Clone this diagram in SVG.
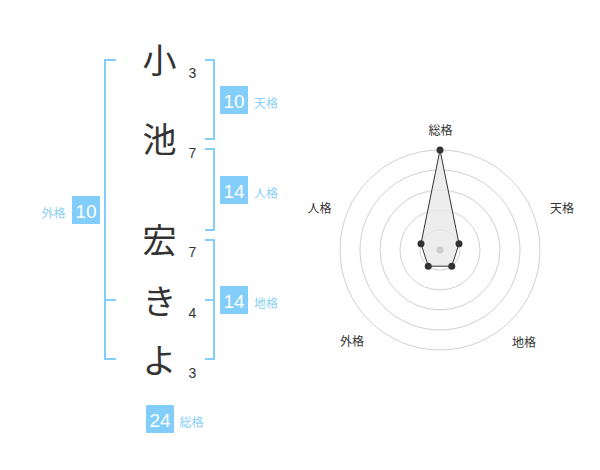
<svg xmlns="http://www.w3.org/2000/svg" width="600" height="470" viewBox="0 0 600 470">
<style>
.br{fill:none;stroke:#82cdf9;stroke-width:2}
.box{fill:#82cdf9}
.bn{font-family:"Liberation Sans","Noto Sans CJK JP",sans-serif;font-size:19px;fill:#fff;text-anchor:middle}
.lb{font-family:"Noto Sans CJK JP",sans-serif;font-size:12px;fill:#8ad0f7}
.ch{font-family:"Noto Sans CJK JP",sans-serif;font-size:34px;fill:#333;text-anchor:middle}
.st{font-family:"Liberation Sans","Noto Sans CJK JP",sans-serif;font-size:14px;fill:#333;text-anchor:middle}
.rl{font-family:"Noto Sans CJK JP",sans-serif;font-size:12px;fill:#333;text-anchor:middle}
.ring{fill:none;stroke:#d0d0d0;stroke-width:1}
.pt{fill:#333}
</style>
<g id="connectors">
<polyline class="br" points="116,60 105,60 105,359 116,359"/>
<line class="br" x1="105" y1="300" x2="116" y2="300"/>
<polyline class="br" points="205,60 214,60 214,139 205,139"/>
<polyline class="br" points="205,149 214,149 214,230 205,230"/>
<polyline class="br" points="205,240 214,240 214,359 205,359"/>
<line class="br" x1="205" y1="300" x2="214" y2="300"/>
</g>
<g id="chars">
<text class="ch" x="159.5" y="73.4">小</text>
<text class="st" x="192.5" y="78.3">3</text>
<text class="ch" x="159.5" y="152">池</text>
<text class="st" x="192.5" y="157.7">7</text>
<text class="ch" x="159.5" y="252.6">宏</text>
<text class="st" x="192.5" y="257.3">7</text>
<text class="ch" x="159.5" y="314">き</text>
<text class="st" x="192.5" y="318.3">4</text>
<text class="ch" x="159.5" y="373">よ</text>
<text class="st" x="192.5" y="378.3">3</text>
</g>
<g id="tenkaku">
<rect class="box" x="220" y="86" width="28" height="28"/>
<text class="bn" x="234" y="108">10</text>
<text class="lb" x="254" y="108.2">天格</text>
</g>
<g id="jinkaku">
<rect class="box" x="220" y="176" width="28" height="28"/>
<text class="bn" x="234" y="198">14</text>
<text class="lb" x="254" y="198.2">人格</text>
</g>
<g id="chikaku">
<rect class="box" x="220" y="286" width="28" height="28"/>
<text class="bn" x="234" y="308">14</text>
<text class="lb" x="254" y="308.2">地格</text>
</g>
<g id="gaikaku">
<rect class="box" x="72" y="196" width="28" height="28"/>
<text class="bn" x="86" y="218">10</text>
<text class="lb" x="41.5" y="218.2">外格</text>
</g>
<g id="soukaku">
<rect class="box" x="146" y="405" width="28" height="28"/>
<text class="bn" x="160" y="427">24</text>
<text class="lb" x="179.5" y="427.2">総格</text>
</g>
<g id="radar">
<circle class="ring" cx="440" cy="250" r="100"/>
<circle class="ring" cx="440" cy="250" r="80"/>
<circle class="ring" cx="440" cy="250" r="60"/>
<circle class="ring" cx="440" cy="250" r="40"/>
<circle class="ring" cx="440" cy="250" r="20"/>
<polygon points="440,150 459.02,243.82 451.76,266.18 428.24,266.18 420.98,243.82" fill="#e8e8e8" fill-opacity="0.8" stroke="#333" stroke-width="1"/>
<circle cx="440" cy="250" r="3.5" fill="#ccc"/>
<circle class="pt" cx="440" cy="150" r="3.5"/>
<circle class="pt" cx="459.02" cy="243.82" r="3.5"/>
<circle class="pt" cx="451.76" cy="266.18" r="3.5"/>
<circle class="pt" cx="428.24" cy="266.18" r="3.5"/>
<circle class="pt" cx="420.98" cy="243.82" r="3.5"/>
<text class="rl" x="440.5" y="135">総格</text>
<text class="rl" x="562" y="213">天格</text>
<text class="rl" x="319.5" y="212.6">人格</text>
<text class="rl" x="352" y="346">外格</text>
<text class="rl" x="524" y="346.5">地格</text>
</g>
</svg>
